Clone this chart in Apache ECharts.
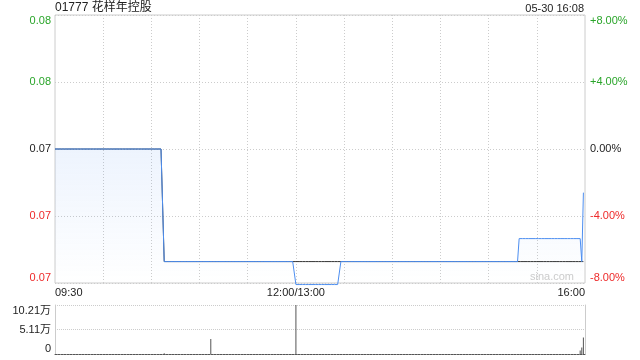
<!DOCTYPE html>
<html>
<head>
<meta charset="utf-8">
<script src="https://cdn.jsdelivr.net/npm/echarts@6/dist/echarts.min.js"></script>
<style>html,body{margin:0;padding:0;background:#fff}#c{width:640px;height:360px}</style>
</head>
<body>
<div id="c"></div>
<script>
// ---- data ----
const stockTitle = '01777 花样年控股';
const stampText = '05-30 16:08';
const prevClose = 0.0729;
const timeTicks = ['09:30', '12:00/13:00', '16:00'];
// price changes: value holds until the next change time
const priceTimes = ['09:30', '10:38', '12:00/13:00', '13:28', '15:19', '15:58', '15:59'];
const priceValues = [0.0729, 0.068, 0.067, 0.068, 0.069, 0.068, 0.071];
const avgTimes = ['09:30', '10:38'];
const avgValues = [0.0729, 0.068];
const lastTime = '15:59';
const volTimes = ['10:38', '11:07', '12:00/13:00', '15:57', '15:58', '15:59'];
const volValues = [1500, 31000, 102100, 7500, 13800, 34600];
const volMax = 102100;
const pctMin = -8, pctMax = 8, pctStep = 4;

// ---- build the time axis ----
function fmt(m) { const h = Math.floor(m / 60), mm = m % 60; return (h < 10 ? '0' : '') + h + ':' + (mm < 10 ? '0' : '') + mm; }
const times = [];
for (let m = 9 * 60 + 30; m < 12 * 60; m++) times.push(fmt(m));
times.push('12:00/13:00');
for (let m = 13 * 60 + 1; m <= 16 * 60; m++) times.push(fmt(m));

function holdSeries(tArr, vArr) {
  const end = times.indexOf(lastTime);
  const out = [];
  let k = -1;
  const idx = tArr.map(t => times.indexOf(t));
  for (let i = 0; i <= end; i++) {
    while (k + 1 < idx.length && idx[k + 1] <= i) k++;
    out.push(k >= 0 ? vArr[k] : null);
  }
  return out;
}
const toPct = v => v == null ? null : (v / prevClose - 1) * 100;
const priceData = holdSeries(priceTimes, priceValues).map(toPct);
const avgData = holdSeries(avgTimes, avgValues).map(toPct);
const volData = times.map(t => { const j = volTimes.indexOf(t); return j >= 0 ? volValues[j] : '-'; });

const GREEN = '#2aa52a', RED = '#ee2a2a', TXT = '#222';
const FONT = '"Liberation Sans", Arial, "Noto Sans CJK SC", sans-serif';
const tickIdx = timeTicks.map(t => times.indexOf(t));
const catData = times.map((t, i) => {
  if (i === 0) return { value: t, textStyle: { align: 'left' } };
  if (i === times.length - 1) return { value: t, textStyle: { align: 'right' } };
  return t;
});
function cls(v) { return v > 1e-9 ? 'up' : (v < -1e-9 ? 'down' : 'flat'); }
const rich = {
  up: { color: GREEN, fontSize: 11, fontFamily: FONT },
  down: { color: RED, fontSize: 11, fontFamily: FONT },
  flat: { color: TXT, fontSize: 11, fontFamily: FONT }
};

const chart = echarts.init(document.getElementById('c'), null, { renderer: 'canvas' });
chart.setOption({
  animation: false,
  textStyle: { fontFamily: FONT },
  grid: [
    { left: 55, right: 55, top: 15, height: 268, show: true, borderColor: '#cccccc', borderWidth: 1, backgroundColor: 'transparent' },
    { left: 55, right: 55, top: 305, height: 49 }
  ],
  graphic: [
    { type: 'text', left: 55, top: 2, style: { text: stockTitle, fontSize: 12, fill: TXT, fontFamily: FONT } },
    { type: 'text', right: 56, top: 3, style: { text: stampText, fontSize: 11, fill: TXT, fontFamily: FONT } },
    { type: 'text', x: 574, y: 277, style: { text: 'sina.com', fontSize: 11, fill: '#cccccc', align: 'right', verticalAlign: 'middle', fontFamily: FONT } }
  ],
  xAxis: [
    {
      type: 'category', gridIndex: 0, data: catData, boundaryGap: false,
      axisLine: { show: false }, axisTick: { show: false },
      axisLabel: { interval: (i) => tickIdx.includes(i), fontSize: 11, color: TXT, margin: 4, fontFamily: FONT },
      splitLine: { show: true, interval: (i) => i % 30 === 0 && i > 0 && i < times.length - 1, lineStyle: { color: '#cccccc', type: [1, 2], width: 1 } }
    },
    {
      type: 'category', gridIndex: 1, data: times, boundaryGap: false,
      axisLine: { show: true, lineStyle: { color: '#555555', type: [2, 1], width: 1 } },
      axisTick: { show: false }, axisLabel: { show: false }, splitLine: { show: false }
    }
  ],
  yAxis: [
    {
      type: 'value', gridIndex: 0, position: 'left', min: pctMin, max: pctMax, interval: pctStep,
      axisLine: { show: false }, axisTick: { show: false },
      splitLine: { show: true, lineStyle: { color: '#cccccc', type: [1, 2], width: 1 } },
      axisLabel: {
        margin: 4, fontSize: 11, verticalAlignMaxLabel: 'top', verticalAlignMinLabel: 'bottom',
        formatter: v => '{' + cls(v) + '|' + (prevClose * (1 + v / 100)).toFixed(2) + '}', rich: rich
      }
    },
    {
      type: 'value', gridIndex: 0, position: 'right', min: pctMin, max: pctMax, interval: pctStep,
      axisLine: { show: false }, axisTick: { show: false }, splitLine: { show: false },
      axisLabel: {
        margin: 5, fontSize: 11, verticalAlignMaxLabel: 'top', verticalAlignMinLabel: 'bottom',
        formatter: v => '{' + cls(v) + '|' + (v > 1e-9 ? '+' : '') + v.toFixed(2) + '%}', rich: rich
      }
    },
    {
      type: 'value', gridIndex: 1, position: 'left', min: 0, max: volMax, interval: volMax / 2,
      axisLine: { show: true, lineStyle: { color: '#cccccc', width: 1 } }, axisTick: { show: false },
      splitLine: { show: true, lineStyle: { color: '#cccccc', type: [1, 1], width: 1 } },
      axisLabel: {
        margin: 4, fontSize: 11, color: TXT, verticalAlignMaxLabel: 'top', verticalAlignMinLabel: 'bottom', fontFamily: FONT,
        formatter: v => v === 0 ? '0' : (Math.round(v / 100) / 100).toFixed(2) + '万'
      }
    },
    {
      type: 'value', gridIndex: 1, position: 'right', min: 0, max: volMax, interval: volMax / 2,
      axisLine: { show: true, lineStyle: { color: '#cccccc', width: 1 } }, axisTick: { show: false },
      splitLine: { show: false }, axisLabel: { show: false }
    }
  ],
  series: [
    {
      type: 'line', xAxisIndex: 0, yAxisIndex: 0, data: avgData, symbol: 'none', clip: false,
      lineStyle: { color: '#333333', width: 1 }, z: 2
    },
    {
      type: 'line', xAxisIndex: 0, yAxisIndex: 0, data: priceData, symbol: 'none', clip: false,
      lineStyle: { color: '#4d8ef0', width: 1 },
      areaStyle: {
        origin: 'start',
        color: new echarts.graphic.LinearGradient(0, 0, 0, 1, [
          { offset: 0, color: 'rgba(77,142,240,0.14)' },
          { offset: 1, color: 'rgba(77,142,240,0.0)' }
        ])
      },
      z: 3
    },
    {
      type: 'bar', xAxisIndex: 1, yAxisIndex: 2, data: volData, barWidth: 1,
      itemStyle: { color: '#555555' }
    }
  ]
});
</script>
</body>
</html>
